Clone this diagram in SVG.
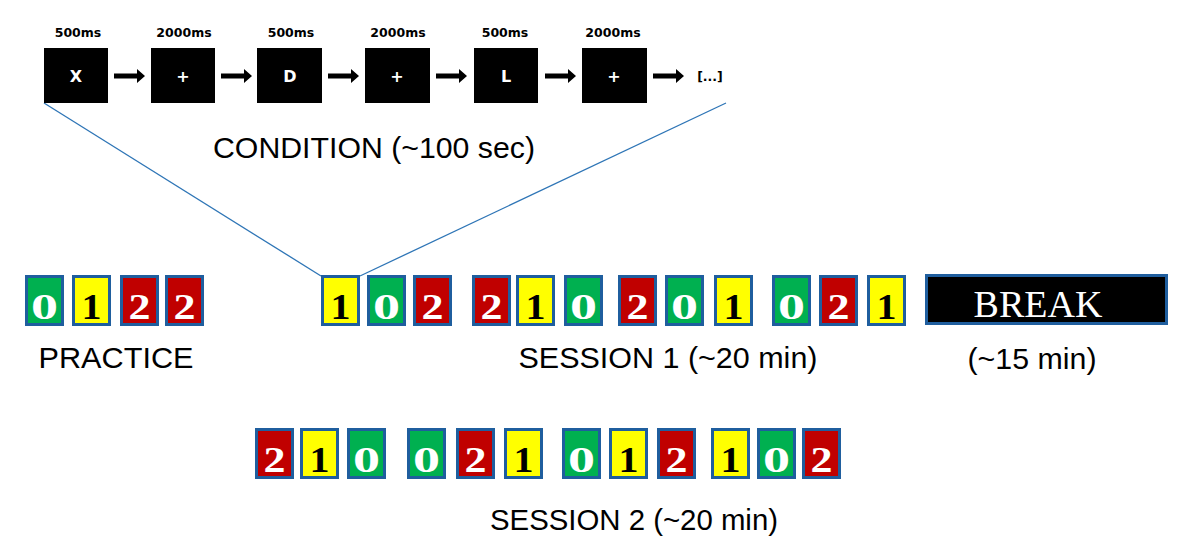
<svg xmlns="http://www.w3.org/2000/svg" width="1182" height="551" viewBox="0 0 1182 551">
<style>
.bg{fill:#ffffff}
.stim{fill:#000000}
.ms{font-family:"DejaVu Sans",sans-serif;font-weight:bold;font-size:12.5px;fill:#000;text-anchor:middle}
.sym{font-family:"DejaVu Sans",sans-serif;font-weight:bold;font-size:16px;fill:#fff;text-anchor:middle}
.lbl{font-family:"Liberation Sans",Arial,sans-serif;font-size:29px;fill:#000;text-anchor:middle}
.box{stroke:#1f5e9e;stroke-width:3}
.g{fill:#00b050}.y{fill:#ffff00}.r{fill:#c00000}
.d{font-family:"Liberation Serif","Times New Roman",serif;font-weight:bold;font-size:36px;text-anchor:middle}
.dw{fill:#ffffff}.dk{fill:#000000}
.zoomline{stroke:#2e75b6;stroke-width:1.3;fill:none}
.arr{fill:#000}
</style>
<defs>
<path id="arrow" d="M0,-2.6 L23,-2.6 L23,-7 L31,0 L23,7 L23,2.6 L0,2.6 Z"/>
</defs>
<rect class="bg" x="0" y="0" width="1182" height="551"/>

<g id="connectors">
<line class="zoomline" x1="44" y1="103" x2="321" y2="276"/>
<line class="zoomline" x1="726" y1="103" x2="360" y2="276"/>
<use href="#arrow" class="arr" x="114" y="76"/>
<use href="#arrow" class="arr" x="221" y="76"/>
<use href="#arrow" class="arr" x="328" y="76"/>
<use href="#arrow" class="arr" x="436" y="76"/>
<use href="#arrow" class="arr" x="545" y="76"/>
<use href="#arrow" class="arr" x="653" y="76"/>
</g>

<g id="condition">
<g id="stim1"><text class="ms" x="78" y="37">500ms</text><rect class="stim" x="44" y="48" width="64" height="55"/><text class="sym" x="76" y="82">X</text></g>
<g id="stim2"><text class="ms" x="184" y="37">2000ms</text><rect class="stim" x="151" y="48" width="64" height="55"/><text class="sym" x="183" y="82">+</text></g>
<g id="stim3"><text class="ms" x="291" y="37">500ms</text><rect class="stim" x="257" y="48" width="65" height="55"/><text class="sym" x="290" y="82">D</text></g>
<g id="stim4"><text class="ms" x="398" y="37">2000ms</text><rect class="stim" x="365" y="48" width="65" height="55"/><text class="sym" x="397" y="82">+</text></g>
<g id="stim5"><text class="ms" x="505" y="37">500ms</text><rect class="stim" x="474" y="48" width="64" height="55"/><text class="sym" x="506" y="82">L</text></g>
<g id="stim6"><text class="ms" x="613" y="37">2000ms</text><rect class="stim" x="582" y="48" width="65" height="55"/><text class="sym" x="614" y="82">+</text></g>
<g id="etc"><text class="ms" x="710" y="81">[...]</text></g>
<text class="lbl" x="374" y="158" textLength="322" lengthAdjust="spacingAndGlyphs">CONDITION (~100 sec)</text>
</g>

<g id="practice">
<g><rect class="box g" x="26.5" y="276.5" width="36" height="48"/><text class="d dw" x="44.5" y="319" textLength="27" lengthAdjust="spacingAndGlyphs">0</text></g>
<g><rect class="box y" x="73.5" y="276.5" width="36" height="48"/><text class="d dk" x="91.5" y="319" textLength="20" lengthAdjust="spacingAndGlyphs">1</text></g>
<g><rect class="box r" x="121.5" y="276.5" width="36" height="48"/><text class="d dw" x="139.5" y="319" textLength="22" lengthAdjust="spacingAndGlyphs">2</text></g>
<g><rect class="box r" x="166.5" y="276.5" width="36" height="48"/><text class="d dw" x="184.5" y="319" textLength="22" lengthAdjust="spacingAndGlyphs">2</text></g>
<text class="lbl" x="116" y="368" textLength="155" lengthAdjust="spacingAndGlyphs">PRACTICE</text>
</g>

<g id="session1">
<g><rect class="box y" x="322.5" y="276.5" width="36" height="48"/><text class="d dk" x="340.5" y="319" textLength="20" lengthAdjust="spacingAndGlyphs">1</text></g>
<g><rect class="box g" x="368.5" y="276.5" width="36" height="48"/><text class="d dw" x="386.5" y="319" textLength="27" lengthAdjust="spacingAndGlyphs">0</text></g>
<g><rect class="box r" x="414.5" y="276.5" width="36" height="48"/><text class="d dw" x="432.5" y="319" textLength="22" lengthAdjust="spacingAndGlyphs">2</text></g>

<g><rect class="box r" x="473.5" y="276.5" width="36" height="48"/><text class="d dw" x="491.5" y="319" textLength="22" lengthAdjust="spacingAndGlyphs">2</text></g>
<g><rect class="box y" x="517.5" y="276.5" width="36" height="48"/><text class="d dk" x="535.5" y="319" textLength="20" lengthAdjust="spacingAndGlyphs">1</text></g>
<g><rect class="box g" x="565.5" y="276.5" width="36" height="48"/><text class="d dw" x="583.5" y="319" textLength="27" lengthAdjust="spacingAndGlyphs">0</text></g>

<g><rect class="box r" x="619.5" y="276.5" width="36" height="48"/><text class="d dw" x="637.5" y="319" textLength="22" lengthAdjust="spacingAndGlyphs">2</text></g>
<g><rect class="box g" x="666.5" y="276.5" width="36" height="48"/><text class="d dw" x="684.5" y="319" textLength="27" lengthAdjust="spacingAndGlyphs">0</text></g>
<g><rect class="box y" x="715.5" y="276.5" width="36" height="48"/><text class="d dk" x="733.5" y="319" textLength="20" lengthAdjust="spacingAndGlyphs">1</text></g>

<g><rect class="box g" x="773.5" y="276.5" width="36" height="48"/><text class="d dw" x="791.5" y="319" textLength="27" lengthAdjust="spacingAndGlyphs">0</text></g>
<g><rect class="box r" x="820.5" y="276.5" width="36" height="48"/><text class="d dw" x="838.5" y="319" textLength="22" lengthAdjust="spacingAndGlyphs">2</text></g>
<g><rect class="box y" x="868.5" y="276.5" width="36" height="48"/><text class="d dk" x="886.5" y="319" textLength="20" lengthAdjust="spacingAndGlyphs">1</text></g>
<text class="lbl" x="668" y="368" textLength="299" lengthAdjust="spacingAndGlyphs">SESSION 1 (~20 min)</text>
</g>

<g id="break">
<rect x="926.5" y="275.5" width="240" height="48" fill="#000" stroke="#1f5e9e" stroke-width="3"/>
<text x="1038" y="317" font-family="'Liberation Serif','Times New Roman',serif" font-size="38" fill="#fff" text-anchor="middle">BREAK</text>
<text class="lbl" x="1032" y="369" textLength="129" lengthAdjust="spacingAndGlyphs">(~15 min)</text>
</g>

<g id="session2">
<g><rect class="box r" x="256.5" y="429.5" width="36" height="48"/><text class="d dw" x="274.5" y="472" textLength="22" lengthAdjust="spacingAndGlyphs">2</text></g>
<g><rect class="box y" x="301.5" y="429.5" width="36" height="48"/><text class="d dk" x="319.5" y="472" textLength="20" lengthAdjust="spacingAndGlyphs">1</text></g>
<g><rect class="box g" x="348.5" y="429.5" width="36" height="48"/><text class="d dw" x="366.5" y="472" textLength="27" lengthAdjust="spacingAndGlyphs">0</text></g>

<g><rect class="box g" x="408.5" y="429.5" width="36" height="48"/><text class="d dw" x="426.5" y="472" textLength="27" lengthAdjust="spacingAndGlyphs">0</text></g>
<g><rect class="box r" x="457.5" y="429.5" width="36" height="48"/><text class="d dw" x="475.5" y="472" textLength="22" lengthAdjust="spacingAndGlyphs">2</text></g>
<g><rect class="box y" x="505.5" y="429.5" width="36" height="48"/><text class="d dk" x="523.5" y="472" textLength="20" lengthAdjust="spacingAndGlyphs">1</text></g>

<g><rect class="box g" x="563.5" y="429.5" width="36" height="48"/><text class="d dw" x="581.5" y="472" textLength="27" lengthAdjust="spacingAndGlyphs">0</text></g>
<g><rect class="box y" x="610.5" y="429.5" width="36" height="48"/><text class="d dk" x="628.5" y="472" textLength="20" lengthAdjust="spacingAndGlyphs">1</text></g>
<g><rect class="box r" x="658.5" y="429.5" width="36" height="48"/><text class="d dw" x="676.5" y="472" textLength="22" lengthAdjust="spacingAndGlyphs">2</text></g>

<g><rect class="box y" x="712.5" y="429.5" width="36" height="48"/><text class="d dk" x="730.5" y="472" textLength="20" lengthAdjust="spacingAndGlyphs">1</text></g>
<g><rect class="box g" x="758.5" y="429.5" width="36" height="48"/><text class="d dw" x="776.5" y="472" textLength="27" lengthAdjust="spacingAndGlyphs">0</text></g>
<g><rect class="box r" x="803.5" y="429.5" width="36" height="48"/><text class="d dw" x="821.5" y="472" textLength="22" lengthAdjust="spacingAndGlyphs">2</text></g>
<text class="lbl" x="634" y="530" textLength="288" lengthAdjust="spacingAndGlyphs">SESSION 2 (~20 min)</text>
</g>
</svg>
